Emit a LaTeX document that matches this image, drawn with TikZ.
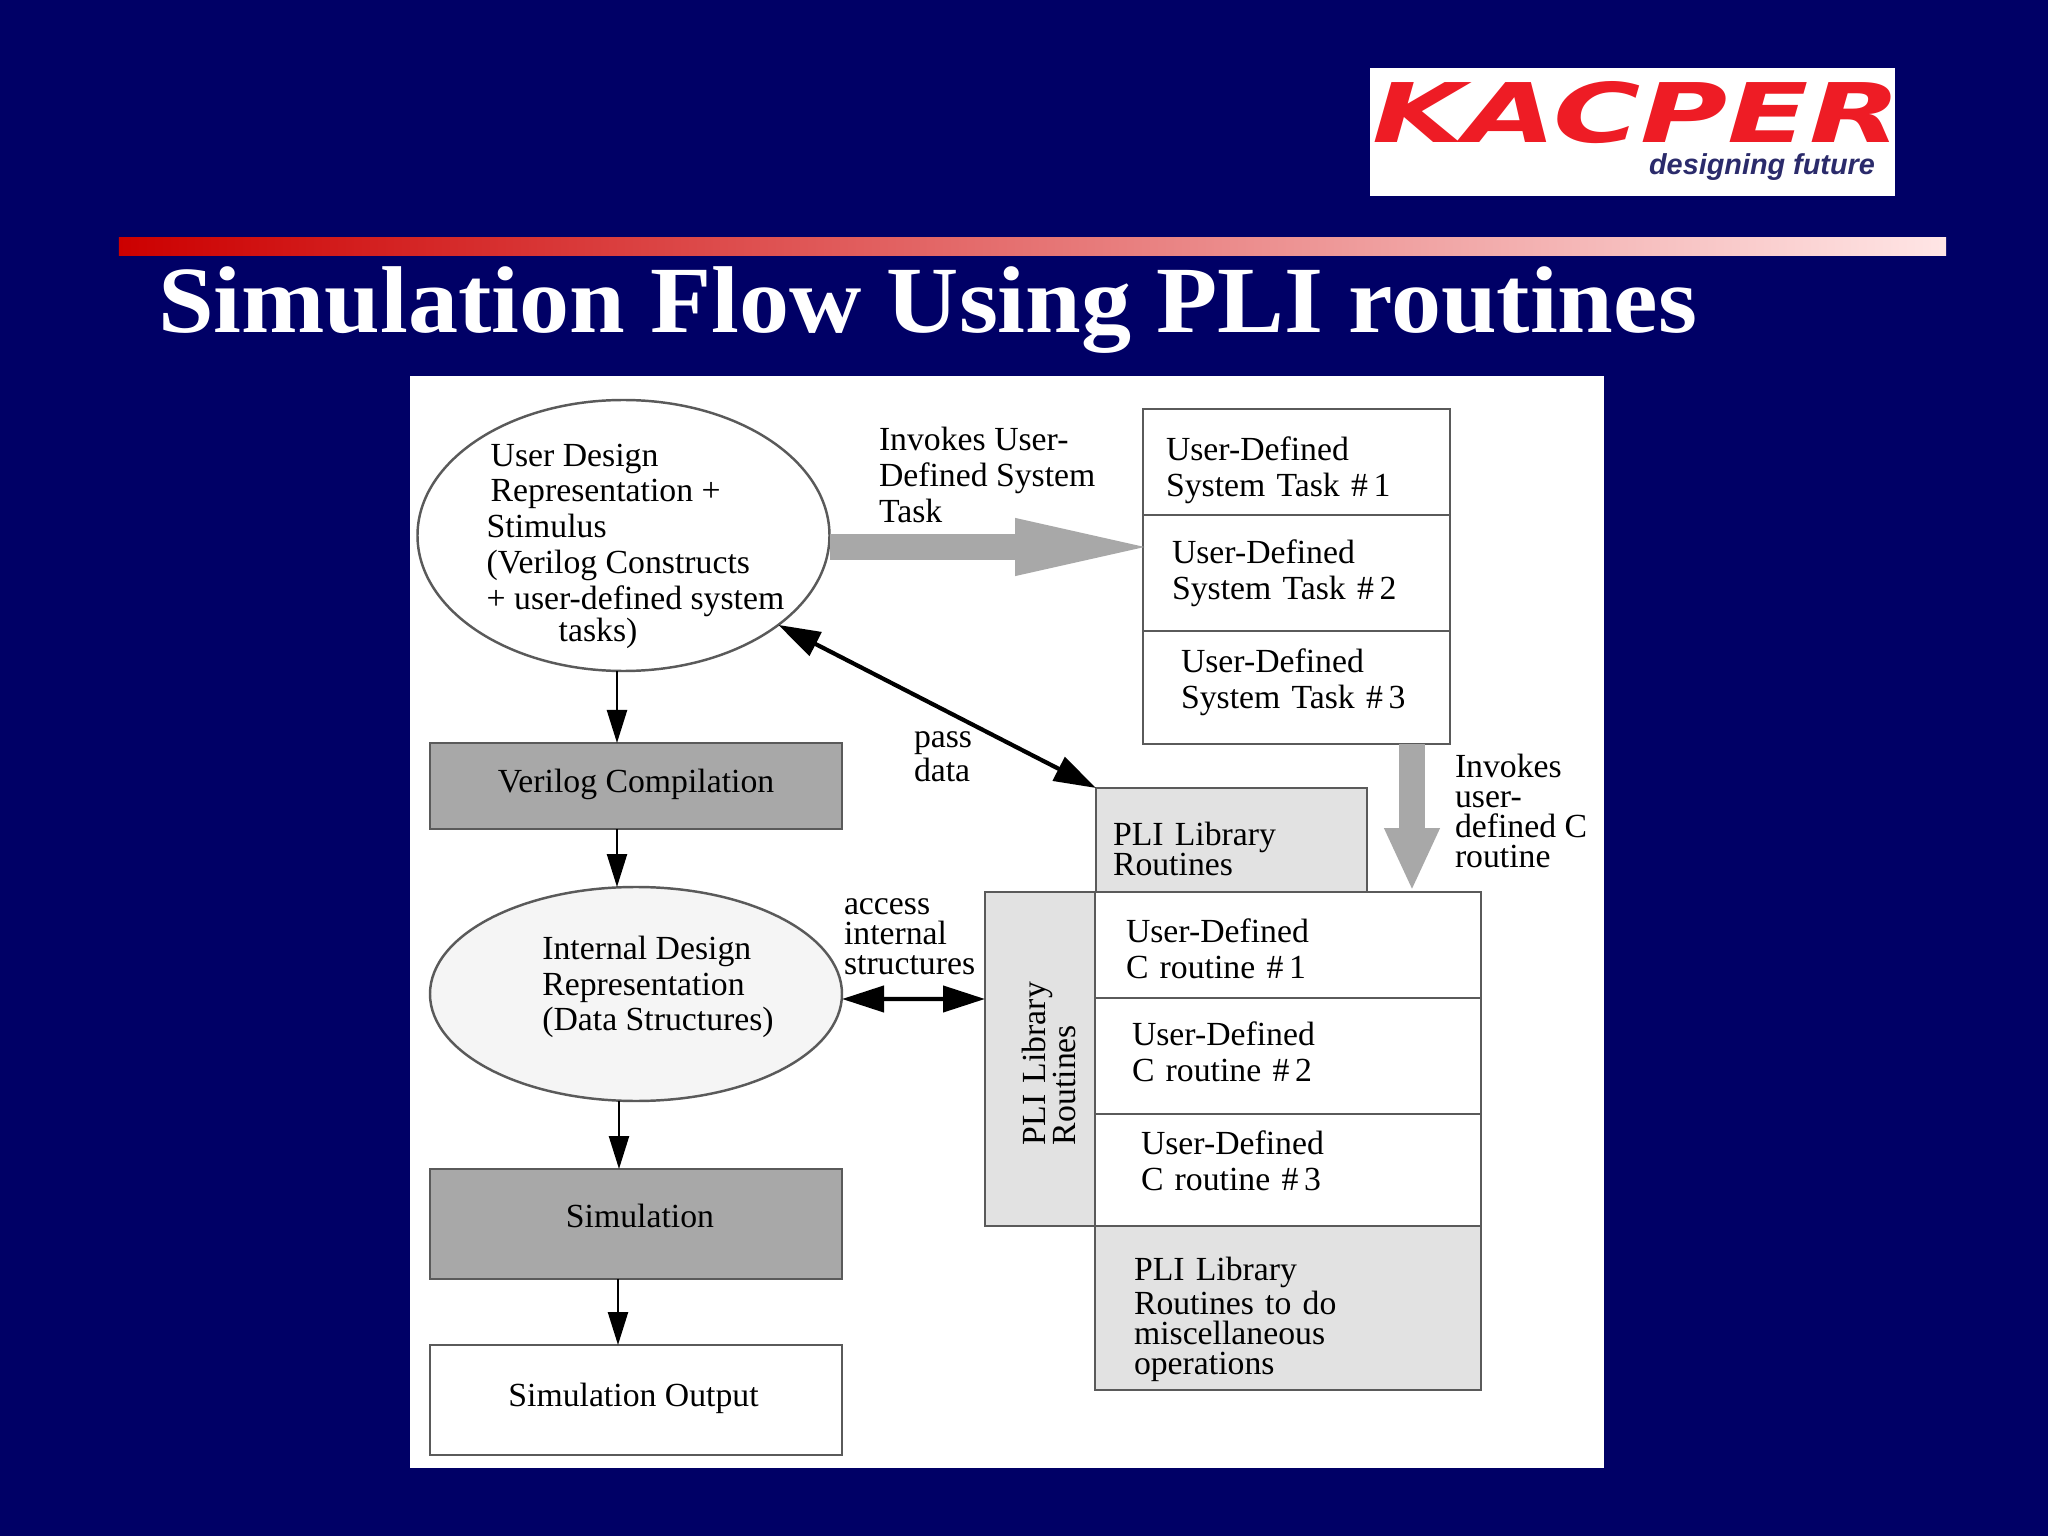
\documentclass[tikz,border=0pt]{standalone}
\usepackage{fontspec}
\setmainfont{Liberation Serif}
\newfontfamily\logofont{DejaVu Sans}
\newfontfamily\sloganfont{Liberation Sans}
\usetikzlibrary{arrows.meta,shapes.geometric}
\definecolor{navy}{HTML}{000066}
\definecolor{edgegray}{HTML}{5A5A5A}
\definecolor{darkbox}{HTML}{A8A8A8}
\definecolor{lightbox}{HTML}{E2E2E2}
\definecolor{logored}{HTML}{EE1C25}
\definecolor{slogan}{HTML}{2B2B6B}
\begin{document}
\begin{tikzpicture}
	\tikzstyle{every node} = [inner sep=0pt, outer sep=0pt]
	\tikzstyle{wide} = [font=\fontsize{9.6}{10.2}\selectfont, align=left]
	\tikzstyle{tight} = [font=\fontsize{9.6}{8.6}\selectfont, align=left]
	\tikzstyle{box} = [rectangle, draw=edgegray, line width=0.7pt, fill=white, inner ysep=0pt]
	\tikzstyle{flow} = [box, wide, align=center, minimum width=4.12cm]
	\tikzstyle{shaded} = [fill=darkbox]
	\tikzstyle{pale} = [fill=lightbox]
	\tikzstyle{oval} = [ellipse, draw=edgegray, line width=0.7pt, minimum width=4.12cm]
	\tikzstyle{thin} = [-{Triangle[length=0.33cm, width=0.20cm]}, line width=0.7pt]
	\tikzstyle{both} = [{Triangle[length=0.42cm, width=0.26cm]}-{Triangle[length=0.42cm, width=0.26cm]}, line width=1.2pt]
	\tikzstyle{fat} = [darkbox, line width=0.26cm]

	\fill [navy] (0, 0) rectangle (20.48, -15.36);
	\node [fill=white, minimum width=11.94cm, minimum height=10.92cm] (panel) at (10.07, -9.22) {};
	\node [fill=white, minimum width=5.25cm, minimum height=1.28cm] (logo) at (16.32, -1.32) {};
	\node [logored, font=\logofont\bfseries\itshape\fontsize{23.4}{24}\selectfont] (kacper) at (16.365, -1.13) {\scalebox{1.447}[1]{KACPER}};
	\node [slogan, font=\sloganfont\bfseries\itshape\fontsize{8.2}{9}\selectfont] (tagline) at (17.62, -1.67) {designing future};
	\node [left color=red!80!black, right color=red!10!white, minimum width=18.27cm, minimum height=0.18cm] (rule) at (10.325, -2.47) {};
	\node [white, anchor=base west, font=\bfseries\fontsize{27}{30}\selectfont] (title) at (1.58, -3.33) {\scalebox{1.055}[1]{Simulation Flow Using PLI routines}};

	\node [oval, minimum height=2.71cm] (design) at (6.235, -5.355) {};
	\node [wide] (designtext) at (6.355, -5.46) {\hspace*{0.04cm}User Design\\\hspace*{0.04cm}Representation +\\Stimulus\\(Verilog Constructs\\+ user-defined system\\[-1.2pt]\hspace*{0.72cm}tasks)};
	\node [flow, shaded, minimum height=0.86cm, text depth=0.10cm] (verilog) at (6.36, -7.86) {Verilog Compilation};
	\node [oval, fill=black!4, minimum height=2.14cm] (internal) at (6.36, -9.94) {};
	\node [wide] (internaltext) at (6.58, -9.87) {Internal Design\\Representation\\(Data Structures)};
	\node [flow, shaded, minimum height=1.10cm, text depth=0.16cm] (simulation) at (6.36, -12.24) {\hspace*{0.08cm}Simulation};
	\node [flow, minimum height=1.10cm, text depth=0.10cm] (output) at (6.36, -14.00) {Simulation Output\hspace*{0.05cm}};

	\node [box, wide, inner xsep=0.23cm, text width=2.61cm, minimum height=1.06cm, text depth=0.27cm] (task1) at (12.965, -4.62) {User-Defined\\System Task \#\,1};
	\node [box, wide, inner xsep=0.29cm, text width=2.49cm, minimum height=1.16cm] (task2) at (12.965, -5.73) {User-Defined\\System Task \#\,2};
	\node [box, wide, inner xsep=0.38cm, text width=2.31cm, minimum height=1.13cm, text depth=0.53cm] (task3) at (12.965, -6.875) {User-Defined\\System Task \#\,3};

	\node [box, pale, tight, inner xsep=0.17cm, text width=2.37cm, minimum height=1.04cm, text depth=0.12cm] (plitop) at (12.315, -8.40) {PLI Library\\Routines};
	\node [box, wide, inner xsep=0.31cm, text width=3.24cm, minimum height=1.06cm, text depth=0.28cm] (routine1) at (12.88, -9.45) {User-Defined\\C routine \#\,1};
	\node [box, wide, inner xsep=0.37cm, text width=3.12cm, minimum height=1.16cm, text depth=0.44cm] (routine2) at (12.88, -10.56) {User-Defined\\C routine \#\,2};
	\node [box, wide, inner xsep=0.46cm, text width=2.94cm, minimum height=1.12cm, text depth=0.54cm] (routine3) at (12.88, -11.70) {User-Defined\\C routine \#\,3};
	\node [box, pale, tight, inner xsep=0.39cm, text width=3.08cm, minimum height=1.64cm, text depth=0.79cm] (misc) at (12.88, -13.08) {PLI Library\\Routines to do\\miscellaneous\\operations};
	\node [box, pale, tight, rotate=90, inner xsep=0.81cm, text width=1.72cm, minimum height=1.10cm, text depth=0.12cm] (plileft) at (10.40, -10.59) {PLI Library\\Routines};

	\node [wide, anchor=west] (invokestask) at (8.79, -4.75) {Invokes User-\\Defined System\\Task};
	\node [tight, anchor=west] (passdata) at (9.14, -7.57) {pass\\data};
	\node [tight, anchor=west] (access) at (8.44, -9.365) {access\\internal\\structures};
	\node [tight, anchor=west] (invokesroutine) at (14.55, -8.11) {Invokes\\user-\\defined C\\routine};

	\draw [thin] ([xshift=-0.065cm]design.south)--([xshift=-0.19cm]verilog.north);
	\draw [thin] ([xshift=-0.19cm]verilog.south)--([xshift=-0.19cm]internal.north);
	\draw [thin] ([xshift=-0.17cm]internal.south)--([xshift=-0.17cm]simulation.north);
	\draw [thin] ([xshift=-0.18cm]simulation.south)--([xshift=-0.18cm]output.north);
	\draw [both] (design.-30)--(plitop.north west);
	\draw [both] ([yshift=-0.05cm]internal.east)--([yshift=0.60cm]plileft.north);
	\draw [fat, -{Triangle[length=1.52cm, width=0.49cm]}] ([yshift=-0.115cm]design.east)--([xshift=0.24cm, yshift=0.26cm]task2.west);
	\draw [fat, -{Triangle[length=0.63cm, width=0.51cm]}] ([xshift=1.155cm]task3.south)--([xshift=1.155cm, yshift=0.01cm]task3.south |- routine1.north);
\end{tikzpicture}
\end{document}
